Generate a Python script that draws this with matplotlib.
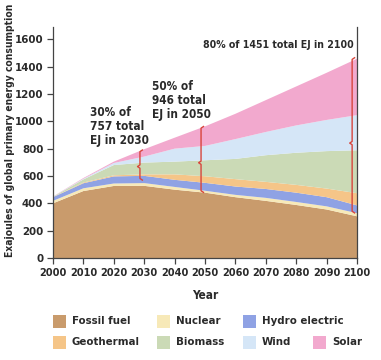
import matplotlib
matplotlib.use("Agg")
import matplotlib.pyplot as plt
from matplotlib.patches import Rectangle

years = [2000, 2010, 2020, 2030, 2040, 2050, 2060, 2070, 2080, 2090, 2100]
fossil = [400, 490, 527, 528, 500, 478, 445, 418, 388, 355, 305]
nuclear = [18, 20, 18, 20, 20, 14, 17, 22, 22, 23, 23]
hydro = [27, 37, 52, 53, 52, 58, 61, 65, 68, 67, 57]
geothermal = [1, 5, 8, 11, 40, 48, 54, 52, 57, 63, 89]
biomass = [2, 23, 75, 86, 93, 117, 148, 195, 235, 274, 314]
wind = [1, 5, 15, 44, 95, 105, 145, 170, 200, 228, 257]
solar = [1, 5, 10, 54, 80, 143, 185, 233, 285, 345, 413]

labels = ["Fossil fuel", "Nuclear", "Hydro electric", "Geothermal", "Biomass", "Wind", "Solar"]
colors = ["#c99b6c", "#f7e9b8", "#8fa2e4", "#f5c588", "#cbdab6", "#d5e6f7", "#f2a9ce"]

annot_years = [2028.6, 2048.7, 2098.4]
annot_low = [570, 480, 330]
annot_high = [790, 962, 1465]
annot_text = ["30% of\n757 total\nEJ in 2030", "50% of\n946 total\nEJ in 2050", "80% of 1451 total EJ in 2100"]

W, H = 381, 360
fig = plt.figure(figsize=(W / 100, H / 100), dpi=100)
ax = fig.add_axes([53 / W, 1 - 258 / H, (357 - 53) / W, (258 - 27) / H])

FONT = dict(family="DejaVu Sans", stretch="condensed", weight="bold")
tc = "#2a2a2a"

ax.stackplot(years, fossil, nuclear, hydro, geothermal, biomass, wind, solar,
             colors=colors, linewidth=0)

ax.set_xlim(2000, 2100)
ax.set_ylim(0, 1690)
ax.set_xticks(range(2000, 2101, 10))
ax.set_yticks(range(0, 1601, 200))
ax.spines["top"].set_visible(False)
for s in ["left", "bottom", "right"]:
    ax.spines[s].set_color("#444444")
    ax.spines[s].set_linewidth(0.9)
ax.tick_params(direction="out", length=4, width=0.9, color="#444444", labelcolor=tc, pad=3)
for lab in ax.get_xticklabels():
    lab.set_family("DejaVu Sans")
    lab.set_stretch("condensed")
    lab.set_weight("bold")
    lab.set_size(7.8)
for lab in ax.get_yticklabels():
    lab.set_family("DejaVu Sans")
    lab.set_stretch("condensed")
    lab.set_weight("bold")
    lab.set_size(8.2)
ax.set_xlabel("Year", fontsize=8.5, color=tc, labelpad=8, **FONT)
fig.text(10 / W, 1 - 130 / H, "Exajoules of global primary energy consumption", rotation=90,
         ha="center", va="center", fontsize=7.4, color=tc, **FONT)

# braces
red = "#d8453c"
for x, lo, hi in zip(annot_years, annot_low, annot_high):
    mid = lo + (hi - lo) * 0.45
    dx = 0.8
    d = 12
    xs = [x + dx, x, x, x - dx, x, x, x + dx]
    ys = [hi, hi - d, mid + d, mid, mid - d, lo + d, lo]
    ax.plot(xs, ys, color=red, lw=1.0, solid_joinstyle="round", zorder=5)

ax.text(2012.2, 1110, annot_text[0], ha="left", va="top", fontsize=8.5, color=tc,
        linespacing=1.1, **FONT)
ax.text(2032.5, 1305, annot_text[1], ha="left", va="top", fontsize=8.5, color=tc,
        linespacing=1.1, **FONT)
ax.text(2099, 1598, annot_text[2], ha="right", va="top", fontsize=7.6, color=tc, **FONT)

# manual legend
pos = [(53, 321), (157, 321), (243, 321), (53, 342), (157, 342), (243, 342), (313, 342)]
for (px, py), lab, col in zip(pos, labels, colors):
    fig.patches.append(Rectangle((px / W, 1 - (py + 6.5) / H), 13 / W, 13 / H,
                                 transform=fig.transFigure, facecolor=col,
                                 edgecolor="none"))
    fig.text((px + 19) / W, 1 - py / H, lab, ha="left", va="center",
             fontsize=8.2, color=tc, **FONT)

fig.savefig("out.png", dpi=100)
